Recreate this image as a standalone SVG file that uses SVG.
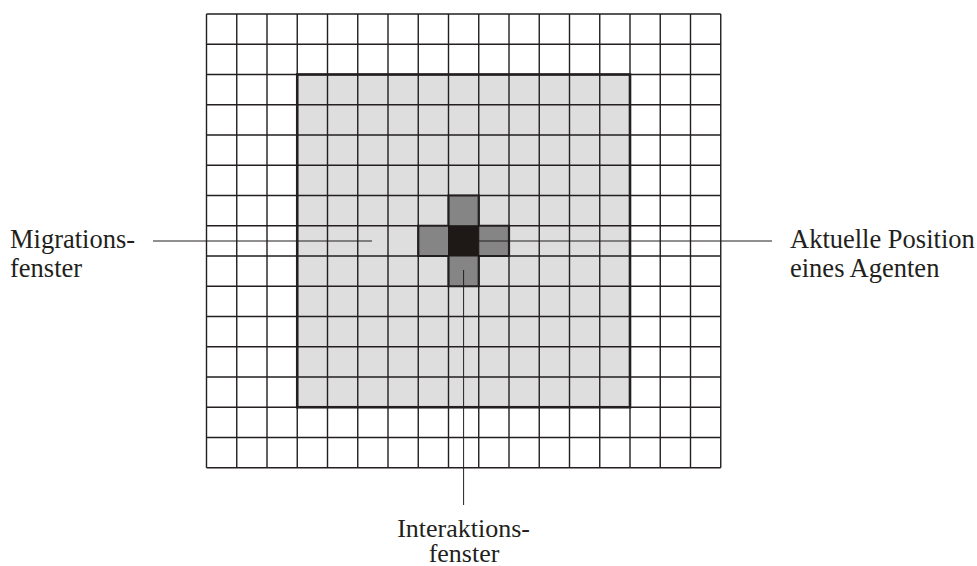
<svg xmlns="http://www.w3.org/2000/svg" width="977" height="566" viewBox="0 0 977 566">
  <style>
    .grid { fill: none; stroke: #231f20; stroke-width: 1.4; }
    .mig { fill: #dedede; }
    .migborder { fill: none; stroke: #231f20; stroke-width: 2.6; }
    .arm { fill: #858585; stroke: #231f20; stroke-width: 2.2; }
    .pos { fill: #1e1816; stroke: #1e1816; stroke-width: 1; }
    .lead { fill: none; stroke: #231f20; stroke-width: 1; }
    .lbl { font-family: "Liberation Serif", "Times New Roman", serif; font-size: 26.5px; fill: #231f20; }
    .lbls { font-family: "Liberation Serif", "Times New Roman", serif; font-size: 26px; fill: #231f20; }
  </style>
  <rect x="0" y="0" width="977" height="566" fill="#ffffff"/>
  <g id="migrationsfenster-fill">
    <rect class="mig" x="297.25" y="74.5" width="332.75" height="332.75"/>
  </g>
  <g id="grid">
    <path class="grid" d="M206.5,14V467.75M236.75,14V467.75M267,14V467.75M297.25,14V467.75M327.5,14V467.75M357.75,14V467.75M388,14V467.75M418.25,14V467.75M448.5,14V467.75M478.75,14V467.75M509,14V467.75M539.25,14V467.75M569.5,14V467.75M599.75,14V467.75M630,14V467.75M660.25,14V467.75M690.5,14V467.75M720.75,14V467.75M206.5,14H720.75M206.5,44.25H720.75M206.5,74.5H720.75M206.5,104.75H720.75M206.5,135H720.75M206.5,165.25H720.75M206.5,195.5H720.75M206.5,225.75H720.75M206.5,256H720.75M206.5,286.25H720.75M206.5,316.5H720.75M206.5,346.75H720.75M206.5,377H720.75M206.5,407.25H720.75M206.5,437.5H720.75M206.5,467.75H720.75"/>
  </g>
  <g id="migrationsfenster">
    <rect class="migborder" x="297.25" y="74.5" width="332.75" height="332.75"/>
  </g>
  <g id="interaktionsfenster">
    <path class="arm" d="M448.5,195.5H478.75V225.75H509V256H478.75V286.25H448.5V256H418.25V225.75H448.5Z"/>
  </g>
  <g id="position">
    <rect class="pos" x="448.5" y="225.75" width="30.25" height="30.25"/>
  </g>
  <g id="connectors">
    <line class="lead" x1="153" y1="241" x2="372" y2="241"/>
    <line class="lead" x1="479" y1="241" x2="772" y2="241"/>
    <line class="lead" x1="463.6" y1="270" x2="463.6" y2="505"/>
  </g>
  <g id="label-migration">
    <text class="lbl" x="10" y="248.3">Migrations-</text>
    <text class="lbl" x="10" y="276.7">fenster</text>
  </g>
  <g id="label-position">
    <text class="lbl" x="790" y="248.3">Aktuelle Position</text>
    <text class="lbl" x="790" y="276.7">eines Agenten</text>
  </g>
  <g id="label-interaktion">
    <text class="lbls" x="463.6" y="536.5" text-anchor="middle">Interaktions-</text>
    <text class="lbls" x="464" y="562" text-anchor="middle">fenster</text>
  </g>
</svg>
